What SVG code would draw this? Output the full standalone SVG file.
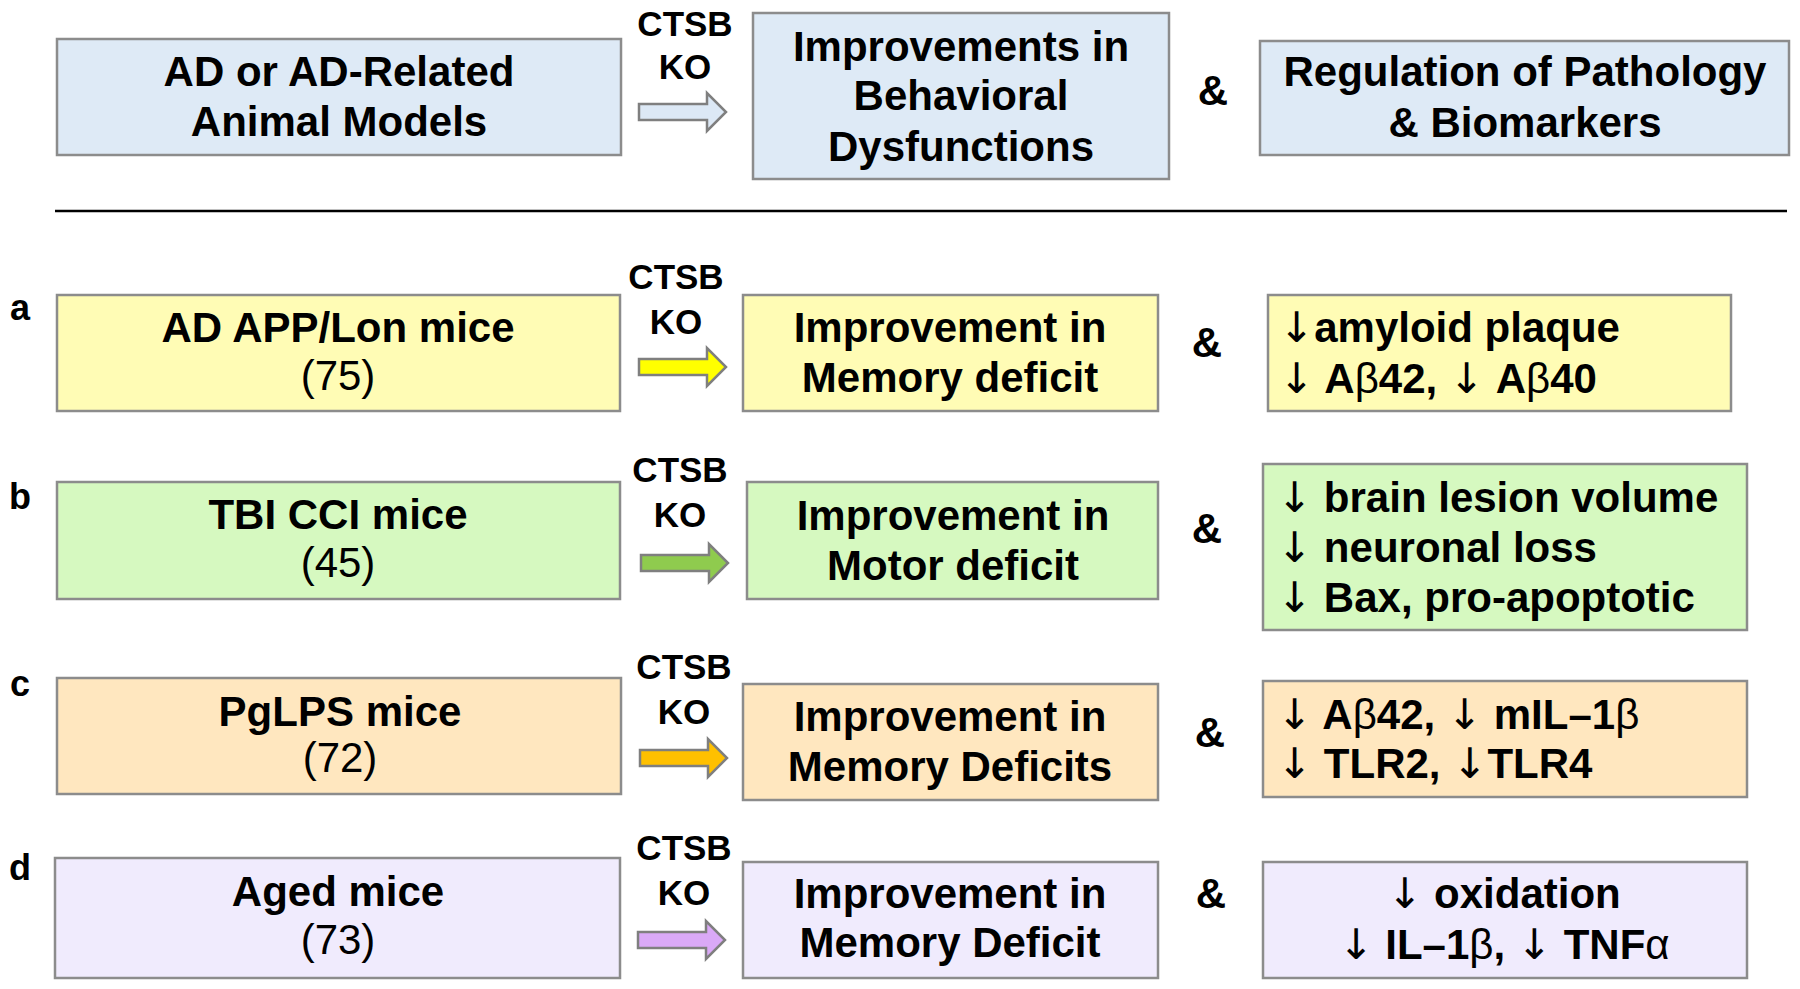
<svg xmlns="http://www.w3.org/2000/svg" width="1800" height="989" viewBox="0 0 1800 989">
<defs>
<style>
.box{stroke:#8c8c8c;stroke-width:2.5}
.blue{fill:#deeaf6}.yel{fill:#fffcb5}.grn{fill:#d6f9c0}.org{fill:#ffe7bf}.lav{fill:#f0ebfd}
text{font-family:"Liberation Sans",Arial,Helvetica,sans-serif;fill:#000}
.t{font-size:42px;font-weight:bold;text-anchor:middle}
.l{font-size:42px;font-weight:bold}
.n{font-size:42px;font-weight:normal;text-anchor:middle}
.k{font-size:35px;font-weight:bold;text-anchor:middle}
.amp{font-size:42px;font-weight:bold;text-anchor:middle}
.lab{font-size:36px;font-weight:bold;text-anchor:middle}
.g{font-weight:normal}
.ar{font-family:"DejaVu Sans",sans-serif;font-weight:normal;font-size:42px}
.arr{stroke:#7f7f7f;stroke-width:2.5}
</style>
<path id="arrow" d="M0,-8 H68 V-19 L87,0 L68,19 V8 H0 Z"/>
</defs>

<g id="connectors">
<line x1="55" y1="211" x2="1787" y2="211" stroke="#000" stroke-width="2.5"/>
<use href="#arrow" x="639" y="112" class="arr" fill="#dce8f5"/>
<use href="#arrow" x="639" y="367" class="arr" fill="#ffff00"/>
<use href="#arrow" x="641" y="563" class="arr" fill="#8fcb4e"/>
<use href="#arrow" x="640" y="758" class="arr" fill="#ffc000"/>
<use href="#arrow" x="638" y="940" class="arr" fill="#daa9f7"/>
<text class="k" x="685" y="36">CTSB</text><text class="k" x="685" y="79">KO</text>
<text class="k" x="676" y="289">CTSB</text><text class="k" x="676" y="334">KO</text>
<text class="k" x="680" y="482">CTSB</text><text class="k" x="680" y="527">KO</text>
<text class="k" x="684" y="679">CTSB</text><text class="k" x="684" y="724">KO</text>
<text class="k" x="684" y="860">CTSB</text><text class="k" x="684" y="905">KO</text>
<text class="amp" x="1213" y="105">&amp;</text>
<text class="amp" x="1207" y="357">&amp;</text>
<text class="amp" x="1207" y="543">&amp;</text>
<text class="amp" x="1210" y="747">&amp;</text>
<text class="amp" x="1211" y="908">&amp;</text>
</g>

<g id="labels">
<text class="lab" x="20" y="320">a</text>
<text class="lab" x="20" y="509">b</text>
<text class="lab" x="20" y="696">c</text>
<text class="lab" x="20" y="880">d</text>
</g>

<g id="top-models">
<rect class="box blue" x="57" y="39" width="564" height="116"/>
<text class="t" x="339" y="86">AD or AD-Related</text>
<text class="t" x="339" y="136">Animal Models</text>
</g>
<g id="top-behavior">
<rect class="box blue" x="753" y="13" width="416" height="166"/>
<text class="t" x="961" y="61">Improvements in</text>
<text class="t" x="961" y="110">Behavioral</text>
<text class="t" x="961" y="161">Dysfunctions</text>
</g>
<g id="top-pathology">
<rect class="box blue" x="1260" y="41" width="529" height="114"/>
<text class="t" x="1525" y="86">Regulation of Pathology</text>
<text class="t" x="1525" y="137">&amp; Biomarkers</text>
</g>

<g id="a-model">
<rect class="box yel" x="57" y="295" width="563" height="116"/>
<text class="t" x="338" y="342">AD APP/Lon mice</text>
<text class="n" x="338" y="390">(75)</text>
</g>
<g id="a-behavior">
<rect class="box yel" x="743" y="295" width="415" height="116"/>
<text class="t" x="950" y="342">Improvement in</text>
<text class="t" x="950" y="392">Memory deficit</text>
</g>
<g id="a-pathology">
<rect class="box yel" x="1268" y="295" width="463" height="116"/>
<text class="l" x="1279" y="342"><tspan class="ar">↓</tspan>amyloid plaque</text>
<text class="l" x="1279" y="393"><tspan class="ar">↓</tspan> A<tspan class="g">β</tspan>42, <tspan class="ar">↓</tspan> A<tspan class="g">β</tspan>40</text>
</g>

<g id="b-model">
<rect class="box grn" x="57" y="482" width="563" height="117"/>
<text class="t" x="338" y="529">TBI CCI mice</text>
<text class="n" x="338" y="577">(45)</text>
</g>
<g id="b-behavior">
<rect class="box grn" x="747" y="482" width="411" height="117"/>
<text class="t" x="953" y="530">Improvement in</text>
<text class="t" x="953" y="580">Motor deficit</text>
</g>
<g id="b-pathology">
<rect class="box grn" x="1263" y="464" width="484" height="166"/>
<text class="l" x="1277" y="512"><tspan class="ar">↓</tspan> brain lesion volume</text>
<text class="l" x="1277" y="562"><tspan class="ar">↓</tspan> neuronal loss</text>
<text class="l" x="1277" y="612"><tspan class="ar">↓</tspan> Bax, pro-apoptotic</text>
</g>

<g id="c-model">
<rect class="box org" x="57" y="678" width="564" height="116"/>
<text class="t" x="340" y="726">PgLPS mice</text>
<text class="n" x="340" y="772">(72)</text>
</g>
<g id="c-behavior">
<rect class="box org" x="743" y="684" width="415" height="116"/>
<text class="t" x="950" y="731">Improvement in</text>
<text class="t" x="950" y="781">Memory Deficits</text>
</g>
<g id="c-pathology">
<rect class="box org" x="1263" y="681" width="484" height="116"/>
<text class="l" x="1277" y="729"><tspan class="ar">↓</tspan> A<tspan class="g">β</tspan>42, <tspan class="ar">↓</tspan> mIL–1<tspan class="g">β</tspan></text>
<text class="l" x="1277" y="778"><tspan class="ar">↓</tspan> TLR2, <tspan class="ar">↓</tspan>TLR4</text>
</g>

<g id="d-model">
<rect class="box lav" x="55" y="858" width="565" height="120"/>
<text class="t" x="338" y="906">Aged mice</text>
<text class="n" x="338" y="954">(73)</text>
</g>
<g id="d-behavior">
<rect class="box lav" x="743" y="862" width="415" height="116"/>
<text class="t" x="950" y="908">Improvement in</text>
<text class="t" x="950" y="957">Memory Deficit</text>
</g>
<g id="d-pathology">
<rect class="box lav" x="1263" y="862" width="484" height="116"/>
<text class="t" x="1504" y="908"><tspan class="ar">↓</tspan> oxidation</text>
<text class="t" x="1504" y="959"><tspan class="ar">↓</tspan> IL–1<tspan class="g">β</tspan>, <tspan class="ar">↓</tspan> TNF<tspan class="g">α</tspan></text>
</g>
</svg>
